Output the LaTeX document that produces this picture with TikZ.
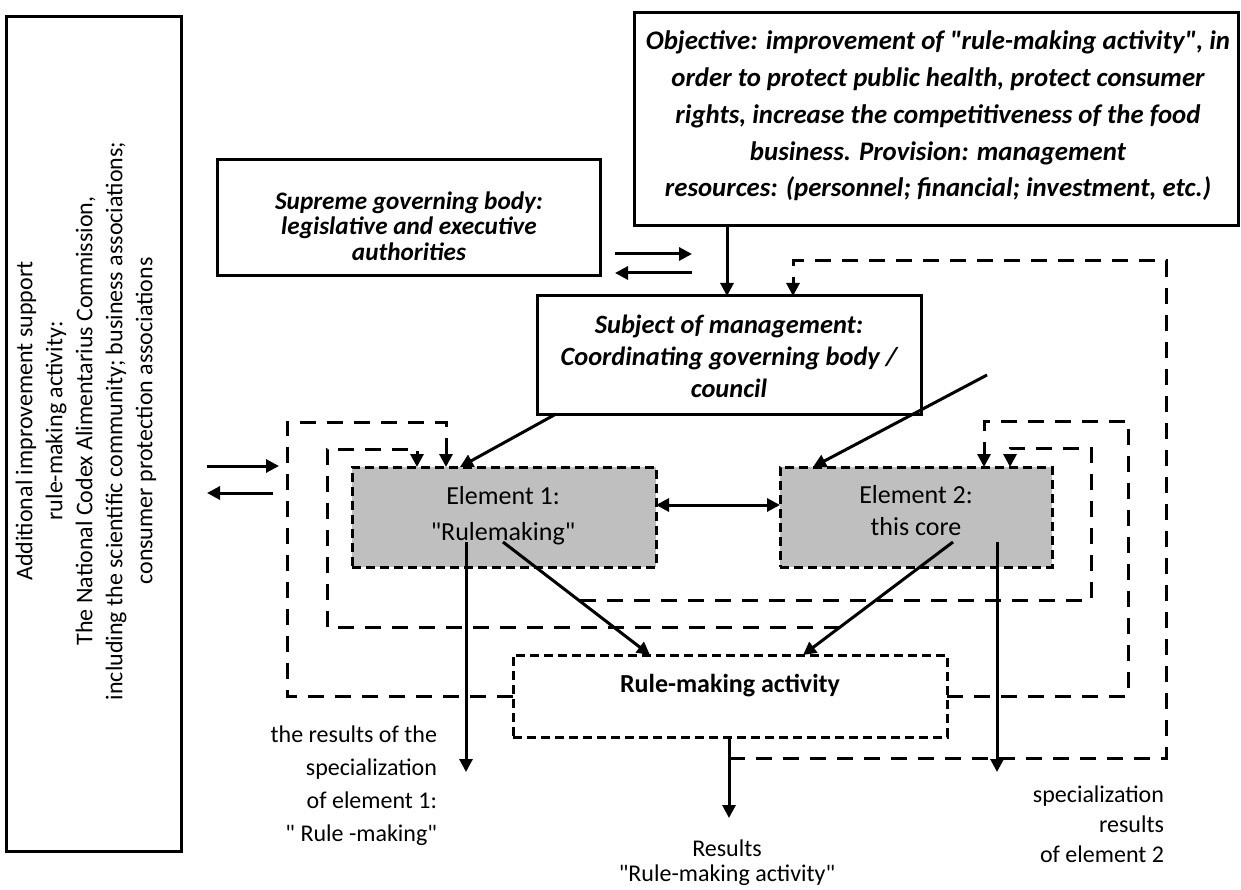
\documentclass[tikz,border=0pt]{standalone}
\usepackage{fontspec}
\setmainfont{Carlito}
\usetikzlibrary{arrows.meta}
% straight double quote, as typed in the source document
\newcommand{\dquote}{\textquotedbl}
\begin{document}
\begin{tikzpicture}[x=1pt,y=-1pt,
  every node/.style={inner sep=0pt,outer sep=0pt},
  sized/.style 2 args={minimum width=#1pt,minimum height=#2pt},
  framed/.style={draw,line width=3pt},
  greybox/.style={draw,line width=3pt,fill=black!25,dash pattern=on 9pt off 5pt},
  dashedframe/.style={draw,line width=3pt,dash pattern=on 9pt off 5pt},
  feedback/.style={line width=3pt,dash pattern=on 16pt off 11pt},
  flow/.style={line width=3pt},
  tip/.style={-{Triangle[length=13pt,width=13pt]}},
  bothtips/.style={{Triangle[length=13pt,width=13pt]}-{Triangle[length=13pt,width=13pt]}},
  headline/.style 2 args={font=\fontsize{#1}{#2}\selectfont\bfseries\itshape,align=center},
  plain/.style 2 args={font=\fontsize{#1}{#2}\selectfont,align=center},
]
\useasboundingbox (0,0) rectangle (1241,890);

% --- frames ---
\node[framed,sized={175}{834}] (support) at (93.5,434) {};
\node[plain={24}{30},rotate=90] (supporttext) at (86,421)
  {Additional improvement support\\rule-making activity:\\The National Codex Alimentarius Commission,\\including the scientific community; business associations;\\consumer protection associations};

\node[framed,sized={383}{116}] (supreme) at (408.5,218) {};
\node[headline={25.2}{25.5}] (supremetext) at (409,226)
  {Supreme governing body:\\legislative and executive\\authorities};

\node[framed,sized={604}{213}] (objective) at (936,119.5) {};
\node[headline={26.8}{36.8}] (objectivetext) at (938,116)
  {Objective: improvement of \dquote rule-making activity\dquote, in\\order to protect public health, protect consumer\\rights, increase the competitiveness of the food\\business. Provision: management\\resources: (personnel; financial; investment, etc.)};

\node[framed,sized={384}{118}] (subject) at (729,355) {};
\node[headline={26.4}{32}] (subjecttext) at (729,356)
  {Subject of management:\\Coordinating governing body /\\council};

\node[greybox,sized={304}{100}] (e1) at (504,517) {};
\node[plain={26}{36}] (e1text) at (503,516) {Element 1:\\\dquote Rulemaking\dquote};

\node[greybox,sized={272}{100}] (e2) at (916,517) {};
\node[plain={26}{32}] (e2text) at (916,511) {Element 2:\\this core};

\node[dashedframe,sized={434}{82}] (rma) at (730,696) {};
\node[font=\fontsize{26}{30}\selectfont\bfseries] (rmatext) at (730,686) {Rule-making activity};

% --- output labels ---
\node[plain={24}{33},align=right,anchor=east] (res1) at (437,786)
  {the results of the\\specialization\\of element 1:\\\dquote{} Rule -making\dquote};
\node[plain={24}{30},align=right,anchor=east] (res2) at (1164,824)
  {specialization\\results\\of element 2};
\node[plain={24}{25}] (resall) at (727,863)
  {Results\\\dquote Rule-making activity\dquote};

% --- solid connectors ---
\coordinate (free2) at (987,375);
\draw[flow,tip] (727,0 |- objective.south) -- (727,0 |- subject.north);
\draw[flow,tip] (615,254) -- (692,254);
\draw[flow,tip] (692,273) -- (615,273);
\draw[flow,tip] (207,466) -- (279,466);
\draw[flow,tip] (273,493) -- (207,493);
\draw[flow,tip] (556,0 |- subject.south) -- (460,0 |- e1.north);
\draw[flow,tip] (free2) -- (813,0 |- e2.north);
\draw[flow,bothtips] (e1.east |- 0,505) -- (e2.west |- 0,505);
\draw[flow,tip] (466,542) -- (466,772);
\draw[flow,tip] (997,542) -- (997,772);
\draw[flow,tip] (503,542) -- (650,0 |- rma.north);
\draw[flow,tip] (953,542) -- (803,0 |- rma.north);
\draw[flow,tip] (729,0 |- rma.south) -- (729,818);

% --- feedback loops ---
\coordinate (j0) at (729,758);
\coordinate (j1) at (580,600);
\coordinate (j2) at (840,627);
\draw[feedback,tip] (j0) -- (1166,758) -- (1166,261) -- (793,261) -- (793,0 |- subject.north);
\draw[feedback,tip] (rma.east |- 0,696) -- (1128,696) -- (1128,421) -- (984,421) -- (984,0 |- e2.north);
\draw[feedback,tip] (j1) -- (1091,600) -- (1091,448) -- (1010,448) -- (1010,0 |- e2.north);
\draw[feedback,tip] (rma.west |- 0,696) -- (287,696) -- (287,422) -- (446,422) -- (446,0 |- e1.north);
\draw[feedback,tip] (j2) -- (327,627) -- (327,449) -- (417,449) -- (417,0 |- e1.north);
\end{tikzpicture}
\end{document}
